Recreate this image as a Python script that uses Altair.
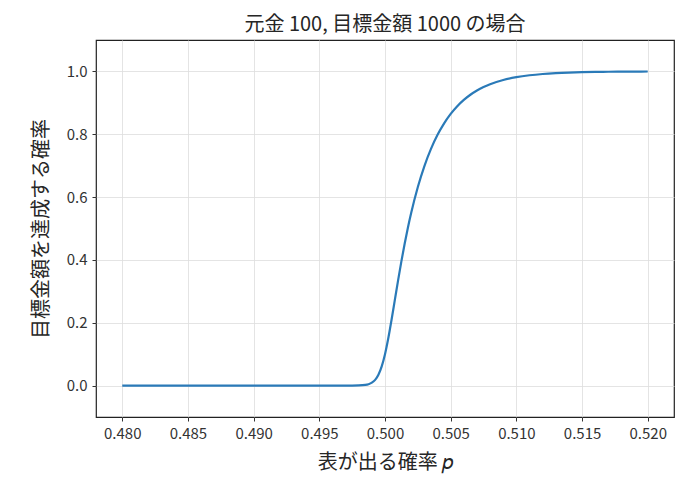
import altair as alt
import pandas as pd

p_values = [0.480, 0.485, 0.490, 0.495, 0.497, 0.4975, 0.498, 0.4985, 0.49875, 0.499,
            0.49925, 0.4995, 0.49975, 0.500, 0.50025, 0.5005, 0.50075, 0.501, 0.50125,
            0.5015, 0.50175, 0.502, 0.5025, 0.503, 0.5035, 0.504, 0.5045, 0.505, 0.5055,
            0.506, 0.5065, 0.507, 0.5075, 0.508, 0.509, 0.510, 0.511, 0.512, 0.513,
            0.514, 0.515, 0.516, 0.517, 0.518, 0.519, 0.520]
prob_values = [0.0, 0.0, 0.0, 0.0, 0.000014, 0.000078, 0.00041, 0.00204, 0.0044, 0.00918,
               0.0183, 0.03465, 0.0612, 0.100, 0.1505, 0.2097, 0.2728, 0.3358, 0.3962,
               0.4523, 0.5039, 0.5509, 0.6321, 0.6988, 0.7534, 0.7981, 0.8347, 0.8647, 0.8892,
               0.9093, 0.9257, 0.9392, 0.9502, 0.9592, 0.9727, 0.9817, 0.9877, 0.9918, 0.9945,
               0.9963, 0.9975, 0.9983, 0.9989, 0.99925, 0.9995, 0.99966]

x_ticks = [0.480, 0.485, 0.490, 0.495, 0.500, 0.505, 0.510, 0.515, 0.520]
y_ticks = [0.0, 0.2, 0.4, 0.6, 0.8, 1.0]

df = pd.DataFrame({"p": p_values, "prob": prob_values})

FONT = "Noto Sans CJK JP"

chart = alt.Chart(df).mark_line(color="#2a7ab8", strokeWidth=2.2, interpolate="monotone", clip=True).encode(
    x=alt.X("p:Q", scale=alt.Scale(domain=[0.478, 0.522], nice=False, zero=False),
            axis=alt.Axis(values=x_ticks, format=".3f", title="表が出る確率 𝑝",
                          titleFontSize=20, titleFontWeight="normal", titlePadding=11,
                          labelFontSize=15, labelPadding=5)),
    y=alt.Y("prob:Q", scale=alt.Scale(domain=[-0.1, 1.1], nice=False, zero=False),
            axis=alt.Axis(values=y_ticks, format=".1f", title="目標金額を達成する確率",
                          titleFontSize=20, titleFontWeight="normal", titlePadding=15,
                          labelFontSize=15, labelPadding=5)),
).properties(
    width=578, height=377,
    title=alt.TitleParams("元金 100, 目標金額 1000 の場合", fontSize=20, fontWeight="normal",
                          font=FONT, color="#262626", offset=5),
    autosize=alt.AutoSizeParams(type="none"),
    padding={"left": 88, "top": 32, "right": 5, "bottom": 60},
).configure_view(
    stroke="#222222", strokeWidth=1.2
).configure_axis(
    labelFont=FONT, titleFont=FONT, labelColor="#333333", titleColor="#262626",
    grid=True, gridColor="#dddddd", gridWidth=0.8,
    domain=False, tickColor="#333333", tickSize=4, tickWidth=1
)

chart.save("out.html", embed_options={"renderer": "svg", "actions": False})
